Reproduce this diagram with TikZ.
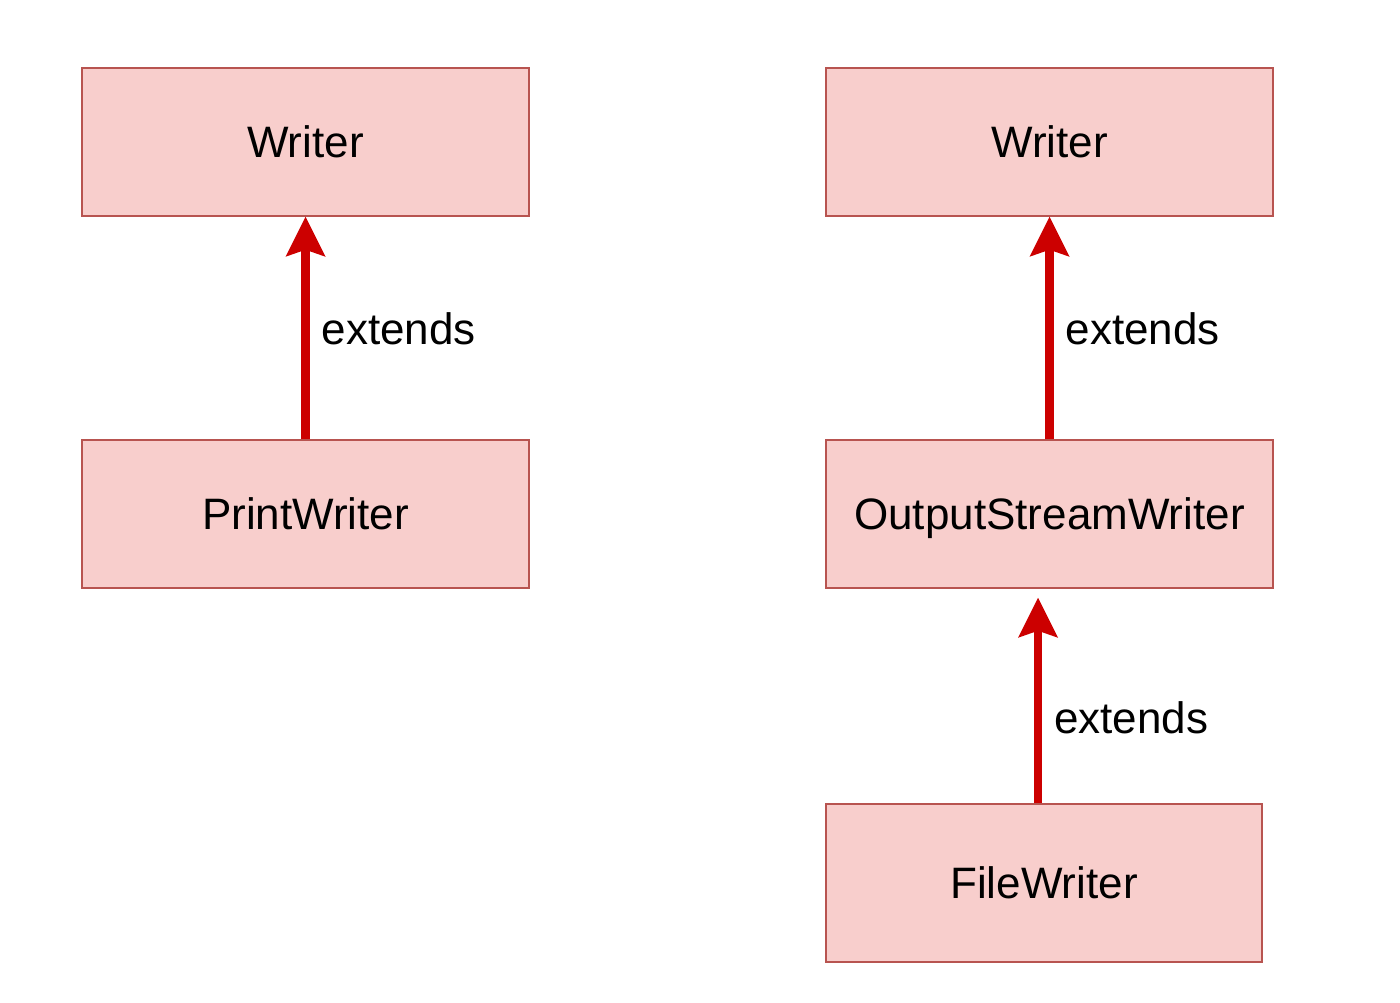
\documentclass[tikz,border=0pt]{standalone}
\usepackage{fontspec}
\setmainfont{Liberation Sans}
\usetikzlibrary{arrows.meta}
\definecolor{boxfill}{HTML}{F8CECC}
\definecolor{boxline}{HTML}{B85450}
\definecolor{arrowred}{HTML}{CC0000}
\begin{document}
\begin{tikzpicture}[x=1pt, y=-1pt, every node/.style={font=\fontsize{44}{52}\selectfont, text height=31.5pt, text depth=0pt}, cls/.style={rectangle, draw=boxline, fill=boxfill, line width=1.5pt, minimum width=447pt, minimum height=148pt, inner sep=0pt}, ext/.style={-{Stealth[length=40pt, width=40pt, inset=7pt, line width=0pt]}, draw=arrowred, line width=8.5pt}, lbl/.style={anchor=west, inner sep=0pt, xshift=12pt, text height=32pt}]
			\useasboundingbox (0,0) rectangle (1400,1002);
			\node[cls] (wl) at (305.5,142) {Writer};
			\node[cls] (pw) at (305.5,514) {PrintWriter};
			\node[cls] (wr) at (1049.5,142) {Writer};
			\node[cls] (osw) at (1049.5,514) {OutputStreamWriter};
			\node[cls, minimum width=436pt, minimum height=158pt] (fw) at (1044,883) {FileWriter};
			\draw[ext] (pw) -- node[lbl] {extends} (wl);
			\draw[ext] (osw) -- node[lbl] {extends} (wr);
			\draw[ext, shorten >=9pt] ([xshift=-6pt]fw.north) -- node[lbl, pos=0.4] {extends} ([xshift=-11.5pt]osw.south);
		\end{tikzpicture}
\end{document}
